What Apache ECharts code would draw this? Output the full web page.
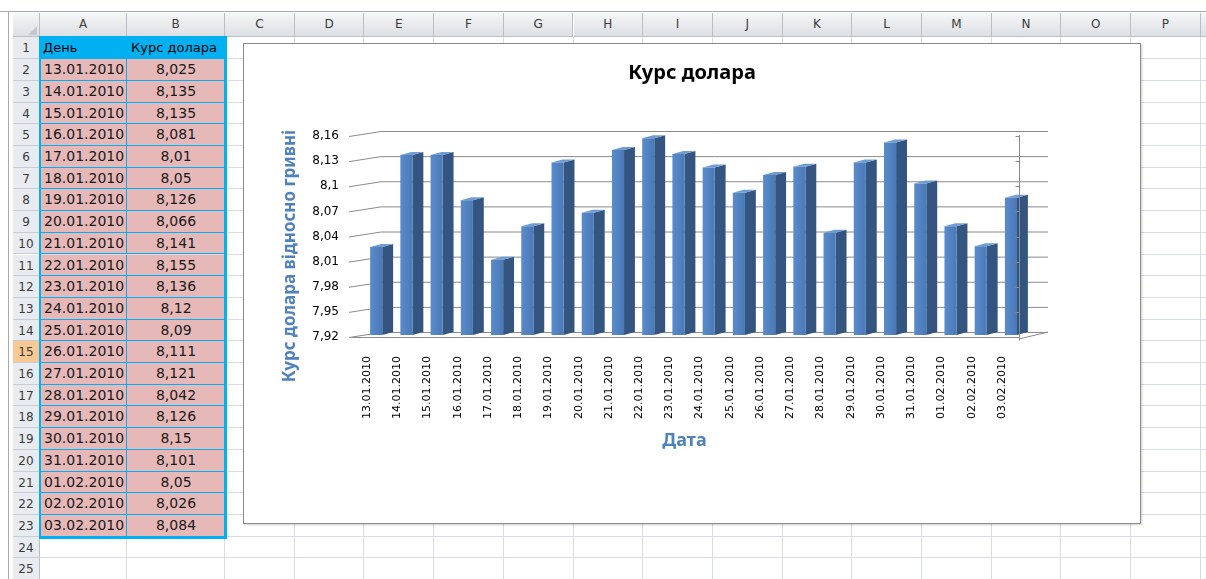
<!DOCTYPE html>
<html>
<head>
<meta charset="utf-8">
<script src="https://cdn.jsdelivr.net/npm/echarts@6/dist/echarts.min.js"></script>
<style>
  html, body { margin: 0; padding: 0; background: #fff; width: 1206px; height: 579px; overflow: hidden; }
  #sheet { position: absolute; left: 0; top: 0; width: 1206px; height: 579px; font-family: "DejaVu Sans", sans-serif; }
  .c { position: absolute; box-sizing: border-box; white-space: nowrap; overflow: hidden; }
  #chart { position: absolute; left: 243px; top: 43px; width: 896px; height: 479px; border: 1px solid #8c8c8c; background: #fff; box-shadow: 1px 1px 2px rgba(0,0,0,0.2); }
</style>
</head>
<body>
<div id="sheet"></div>
<div id="chart"></div>
<script>
// data (as in the sheet)
const dates = ['13.01.2010', '14.01.2010', '15.01.2010', '16.01.2010', '17.01.2010', '18.01.2010',
  '19.01.2010', '20.01.2010', '21.01.2010', '22.01.2010', '23.01.2010', '24.01.2010', '25.01.2010',
  '26.01.2010', '27.01.2010', '28.01.2010', '29.01.2010', '30.01.2010', '31.01.2010', '01.02.2010',
  '02.02.2010', '03.02.2010'];
const rates = [8.025, 8.135, 8.135, 8.081, 8.01, 8.05, 8.126, 8.066, 8.141, 8.155, 8.136,
  8.12, 8.09, 8.111, 8.121, 8.042, 8.126, 8.15, 8.101, 8.05, 8.026, 8.084];
const yTicks = [7.92, 7.95, 7.98, 8.01, 8.04, 8.07, 8.1, 8.13, 8.16];
const colLetters = ['A', 'B', 'C', 'D', 'E', 'F', 'G', 'H', 'I', 'J', 'K', 'L', 'M', 'N', 'O', 'P', 'Q'];
const headerTexts = ['День', 'Курс долара'];

const comma = v => String(+v.toFixed(3)).replace('.', ',');

// ---- spreadsheet background ----
const sheet = document.getElementById('sheet');
function box(l, t, w, h, css, text) {
  const d = document.createElement('div');
  d.className = 'c';
  d.style.cssText = `left:${l}px;top:${t}px;width:${w}px;height:${h}px;` + (css || '');
  if (text !== undefined) d.textContent = text;
  sheet.appendChild(d);
  return d;
}
const ROW0 = 37.4, RH = 21.71, HDR_TOP = 13;
const colEdges = [40, 127, 225];
while (colEdges.length < colLetters.length + 1) colEdges.push(colEdges[colEdges.length - 1] + 69.7);
const nRows = 25;

// top strip
box(0, 11, 1206, 1, 'background:#a9a9a9;');
box(8, 11, 1, 568, 'background:#a9a9a9;');
// grid lines
for (let i = 1; i < colEdges.length; i++) box(colEdges[i] - 1, ROW0, 1, 579 - ROW0, 'background:#d8dce5;');
for (let r = 1; r <= nRows; r++) box(40, ROW0 + r * RH - 1, 1166, 1, 'background:#d8dce5;');
// column headers
box(13, HDR_TOP, 27, ROW0 - HDR_TOP, 'background:linear-gradient(#f5f6f7,#dde0e4);border-right:1px solid #b9bfc7;border-bottom:1px solid #b9bfc7;');
box(28, 26, 0, 0, 'width:0;height:0;border-left:9px solid transparent;border-bottom:9px solid #c3c8cf;');
for (let i = 0; i < colLetters.length; i++) {
  box(colEdges[i], HDR_TOP, colEdges[i + 1] - colEdges[i], ROW0 - HDR_TOP,
    'background:linear-gradient(#f5f6f7,#dde0e4);border-right:1px solid #b9bfc7;border-bottom:1px solid #b9bfc7;' +
    'font-size:12px;color:#3b3b3b;text-align:center;line-height:23px;', colLetters[i]);
}
// row headers
for (let r = 0; r < nRows; r++) {
  const active = r === 14;
  box(13, ROW0 + r * RH, 27, RH,
    (active ? 'background:#f8c993;' : 'background:#e8ebef;') +
    'border-right:1px solid #b9bfc7;border-bottom:1px solid #c9ced6;font-size:12px;color:#3b3b3b;text-align:center;line-height:22px;',
    String(r + 1));
}
// data block A1:B23
box(40, ROW0, 87, RH, 'background:#00b0f0;border-right:1px solid #00b0f0;font-size:13px;color:#000;padding-left:3px;line-height:22px;', headerTexts[0]);
box(127, ROW0, 98, RH, 'background:#00b0f0;font-size:13px;color:#000;padding-left:4px;line-height:22px;', headerTexts[1]);
dates.forEach((d, i) => {
  const t = ROW0 + (i + 1) * RH;
  box(40, t, 87, RH, 'background:#e6b8b7;border-right:1px solid #00b0f0;border-bottom:1px solid #00b0f0;font-size:14px;color:#1a1a1a;padding-left:4px;line-height:21px;', d);
  box(127, t, 98, RH, 'background:#e6b8b7;border-bottom:1px solid #00b0f0;font-size:14px;color:#1a1a1a;text-align:center;line-height:21px;', comma(rates[i]));
});
box(39, ROW0 - 1, 188, 23 * RH + 3, 'border:2px solid #00b0f0;border-right-width:3px;border-bottom-width:3px;');

// ---- chart ----
const DX = 29, DY = -5;
const lineStyle = { stroke: '#8a8a8a', lineWidth: 1 };

function renderWall(params, api) {
  const cs = params.coordSys;
  const v = api.value(1);
  const y = api.coord([0, v])[1];
  const xl = cs.x, xr = cs.x + cs.width + 2;
  const kids = [
    { type: 'line', shape: { x1: xl - 3, y1: y + 0.5, x2: xl + DX, y2: y + DY + 0.5 }, style: lineStyle },
    { type: 'line', shape: { x1: xl + DX, y1: y + DY + 0.5, x2: xr + DX, y2: y + DY + 0.5 }, style: lineStyle }
  ];
  if (v === yTicks[0]) {
    kids.push({ type: 'line', shape: { x1: xr, y1: y + 2, x2: xr + DX, y2: y + DY }, style: lineStyle });
  }
  return { type: 'group', children: kids };
}

function renderEdge(params, api) {
  const cs = params.coordSys;
  const v = api.value(1);
  const y = Math.round(api.coord([0, v])[1]) + 0.5;
  const xr = Math.round(cs.x + cs.width + 2) + 0.5;
  const kids = [{ type: 'line', shape: { x1: xr - 4, y1: y, x2: xr, y2: y }, style: lineStyle }];
  if (v === yTicks[0]) {
    kids.push({ type: 'line', shape: { x1: xr, y1: cs.y - 1, x2: xr, y2: y + 3 }, style: lineStyle });
  }
  return { type: 'group', children: kids };
}

function renderBar(params, api) {
  const i = api.value(0), v = api.value(1);
  const top = api.coord([i, v]);
  const base = api.coord([i, yTicks[0]]);
  const band = api.size([1, 0])[0];
  const x0 = top[0] + band * 0.1, w = band * 0.4, d = band * 0.36, dz = -3, lift = -2;
  const yT = top[1] + lift, yB = base[1] + lift;
  return {
    type: 'group',
    children: [
      { type: 'polygon', shape: { points: [[x0 + w, yT], [x0 + w + d, yT + dz], [x0 + w + d, yB + dz], [x0 + w, yB]] },
        style: { fill: '#34557f' } },
      { type: 'polygon', shape: { points: [[x0, yT], [x0 + d, yT + dz], [x0 + w + d, yT + dz], [x0 + w, yT]] },
        style: { fill: '#6f9cd4' } },
      { type: 'rect', shape: { x: x0, y: yT, width: w, height: yB - yT },
        style: { fill: new echarts.graphic.LinearGradient(0, 0, 1, 0, [
          { offset: 0, color: '#5b8bcb' }, { offset: 1, color: '#4a79b8' }]) } }
    ]
  };
}

const chart = echarts.init(document.getElementById('chart'));
const axisNameStyle = { color: '#4f81bd', fontWeight: 'bold', fontFamily: 'Noto Sans' };
chart.setOption({
  animation: false,
  title: {
    text: 'Курс долара',
    left: 'center',
    top: 14,
    textStyle: { fontFamily: 'Noto Sans', fontWeight: 'bold', fontSize: 20, color: '#000' }
  },
  graphic: [{
    type: 'text',
    x: 46,
    y: 212,
    rotation: Math.PI / 2,
    style: Object.assign({ text: 'Курс долара відносно гривні', fontSize: 17, fill: '#4f81bd', align: 'center', verticalAlign: 'middle' },
      { fontWeight: 'bold', fontFamily: 'Noto Sans' })
  }],
  grid: { left: 108, top: 92, width: 665, height: 201 },
  xAxis: {
    type: 'category',
    data: dates,
    name: 'Дата',
    nameLocation: 'middle',
    nameGap: 95,
    nameTextStyle: Object.assign({ fontSize: 18 }, axisNameStyle),
    axisLine: { lineStyle: { color: '#8a8a8a' } },
    axisTick: { length: 5, lineStyle: { color: '#8a8a8a' } },
    axisLabel: { rotate: 90, margin: 19, interval: 0, fontSize: 11, color: '#000', fontFamily: 'DejaVu Sans' },
    splitLine: { show: false }
  },
  yAxis: {
    type: 'value',
    min: 7.92,
    max: 8.16,
    interval: 0.03,
    axisLine: { show: false },
    axisTick: { show: false },
    splitLine: { show: false },
    axisLabel: { margin: 13, fontSize: 12, color: '#000', fontFamily: 'DejaVu Sans', formatter: v => comma(v) }
  },
  series: [
    { type: 'custom', data: yTicks.map(v => [0, v]), renderItem: renderWall, z: 1, silent: true },
    { type: 'custom', name: 'Курс долара', data: rates.map((v, i) => [i, v]), renderItem: renderBar, z: 3 },
    { type: 'custom', data: yTicks.map(v => [0, v]), renderItem: renderEdge, z: 4, silent: true }
  ]
});
</script>
</body>
</html>
